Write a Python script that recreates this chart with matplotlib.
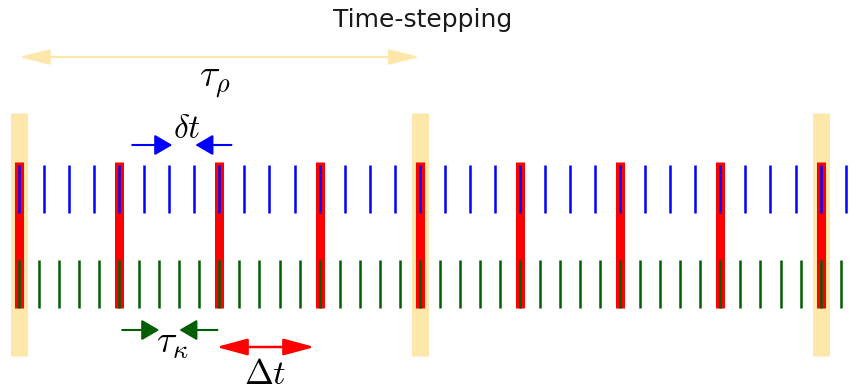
import numpy as np
import matplotlib
matplotlib.use("Agg")
import matplotlib.pyplot as plt

# time-stepping schematic: one unit = one coarse step Delta t
DT = 1.0            # Delta t (red)
DELTA_T = 0.25      # delta t (blue)
TAU_K = 0.2         # tau_kappa (green)
TAU_RHO = 4.0       # tau_rho (yellow)
N_RED = 9
N_BLUE = 34
N_GREEN = 42
N_YELLOW = 3

red_t = DT * np.arange(N_RED)
blue_t = DELTA_T * np.arange(N_BLUE)
green_t = TAU_K * np.arange(N_GREEN)
yellow_t = TAU_RHO * np.arange(N_YELLOW)

C_YEL = "#fde8aa"
C_RED = "#ff0000"
C_BLUE = "#0000ff"
C_GREEN = "#005f00"

plt.rcParams["mathtext.fontset"] = "cm"
fig = plt.figure(figsize=(8.57, 3.91), dpi=100)
ax = fig.add_axes([0, 0, 1, 1])
ax.set_xlim(-19 / 100.2, (857 - 19) / 100.2)
ax.set_ylim(391, 0)
ax.axis("off")

ax.vlines(yellow_t, 113, 356, color=C_YEL, lw=12.2, capstyle="butt", zorder=1)
ax.vlines(red_t, 162, 308, color=C_RED, lw=6.5, capstyle="butt", zorder=2)
ax.vlines(blue_t, 165, 213, color=C_BLUE, lw=1.8, capstyle="butt", zorder=3)
ax.vlines(green_t, 260, 308, color=C_GREEN, lw=1.8, capstyle="butt", zorder=3)


def arrow(x0, x1, y, color, style, lw, ms):
    ax.annotate("", xy=(x1, y), xytext=(x0, y),
                arrowprops=dict(arrowstyle=style, color=color, lw=lw,
                                mutation_scale=ms, shrinkA=0, shrinkB=0))


# tau_rho
arrow(0.0, TAU_RHO, 57, C_YEL, "<|-|>,head_length=1.0,head_width=0.25", 1.5, 19)
ax.text(1.956, 82, r"$\tau_\rho$", fontsize=27, ha="center", va="center")

# delta t
arrow(1.5 - 0.37, 1.53, 145, C_BLUE, "-|>,head_length=0.6,head_width=0.35", 1.5, 18)
arrow(1.75 + 0.37, 1.76, 145, C_BLUE, "-|>,head_length=0.6,head_width=0.35", 1.5, 18)
ax.text(1.68, 128, r"$\delta t$", fontsize=24, ha="center", va="center")

# tau_kappa
arrow(1.03, 1.4, 330, C_GREEN, "-|>,head_length=0.6,head_width=0.35", 1.5, 18)
arrow(1.98, 1.6, 330, C_GREEN, "-|>,head_length=0.6,head_width=0.35", 1.5, 18)
ax.text(1.53, 343, r"$\tau_\kappa$", fontsize=27, ha="center", va="center")

# Delta t
arrow(1.97, 2.95, 347, C_RED, "<|-|>,head_length=1.0,head_width=0.27", 1.8, 19)
ax.text(2.455, 374, r"$\Delta t$", fontsize=25, ha="center", va="center")

ax.text(4.03, 27, "Time-stepping", fontsize=18, ha="center", va="baseline",
        color="#1a1a1a")

fig.savefig("out.png", dpi=100)
